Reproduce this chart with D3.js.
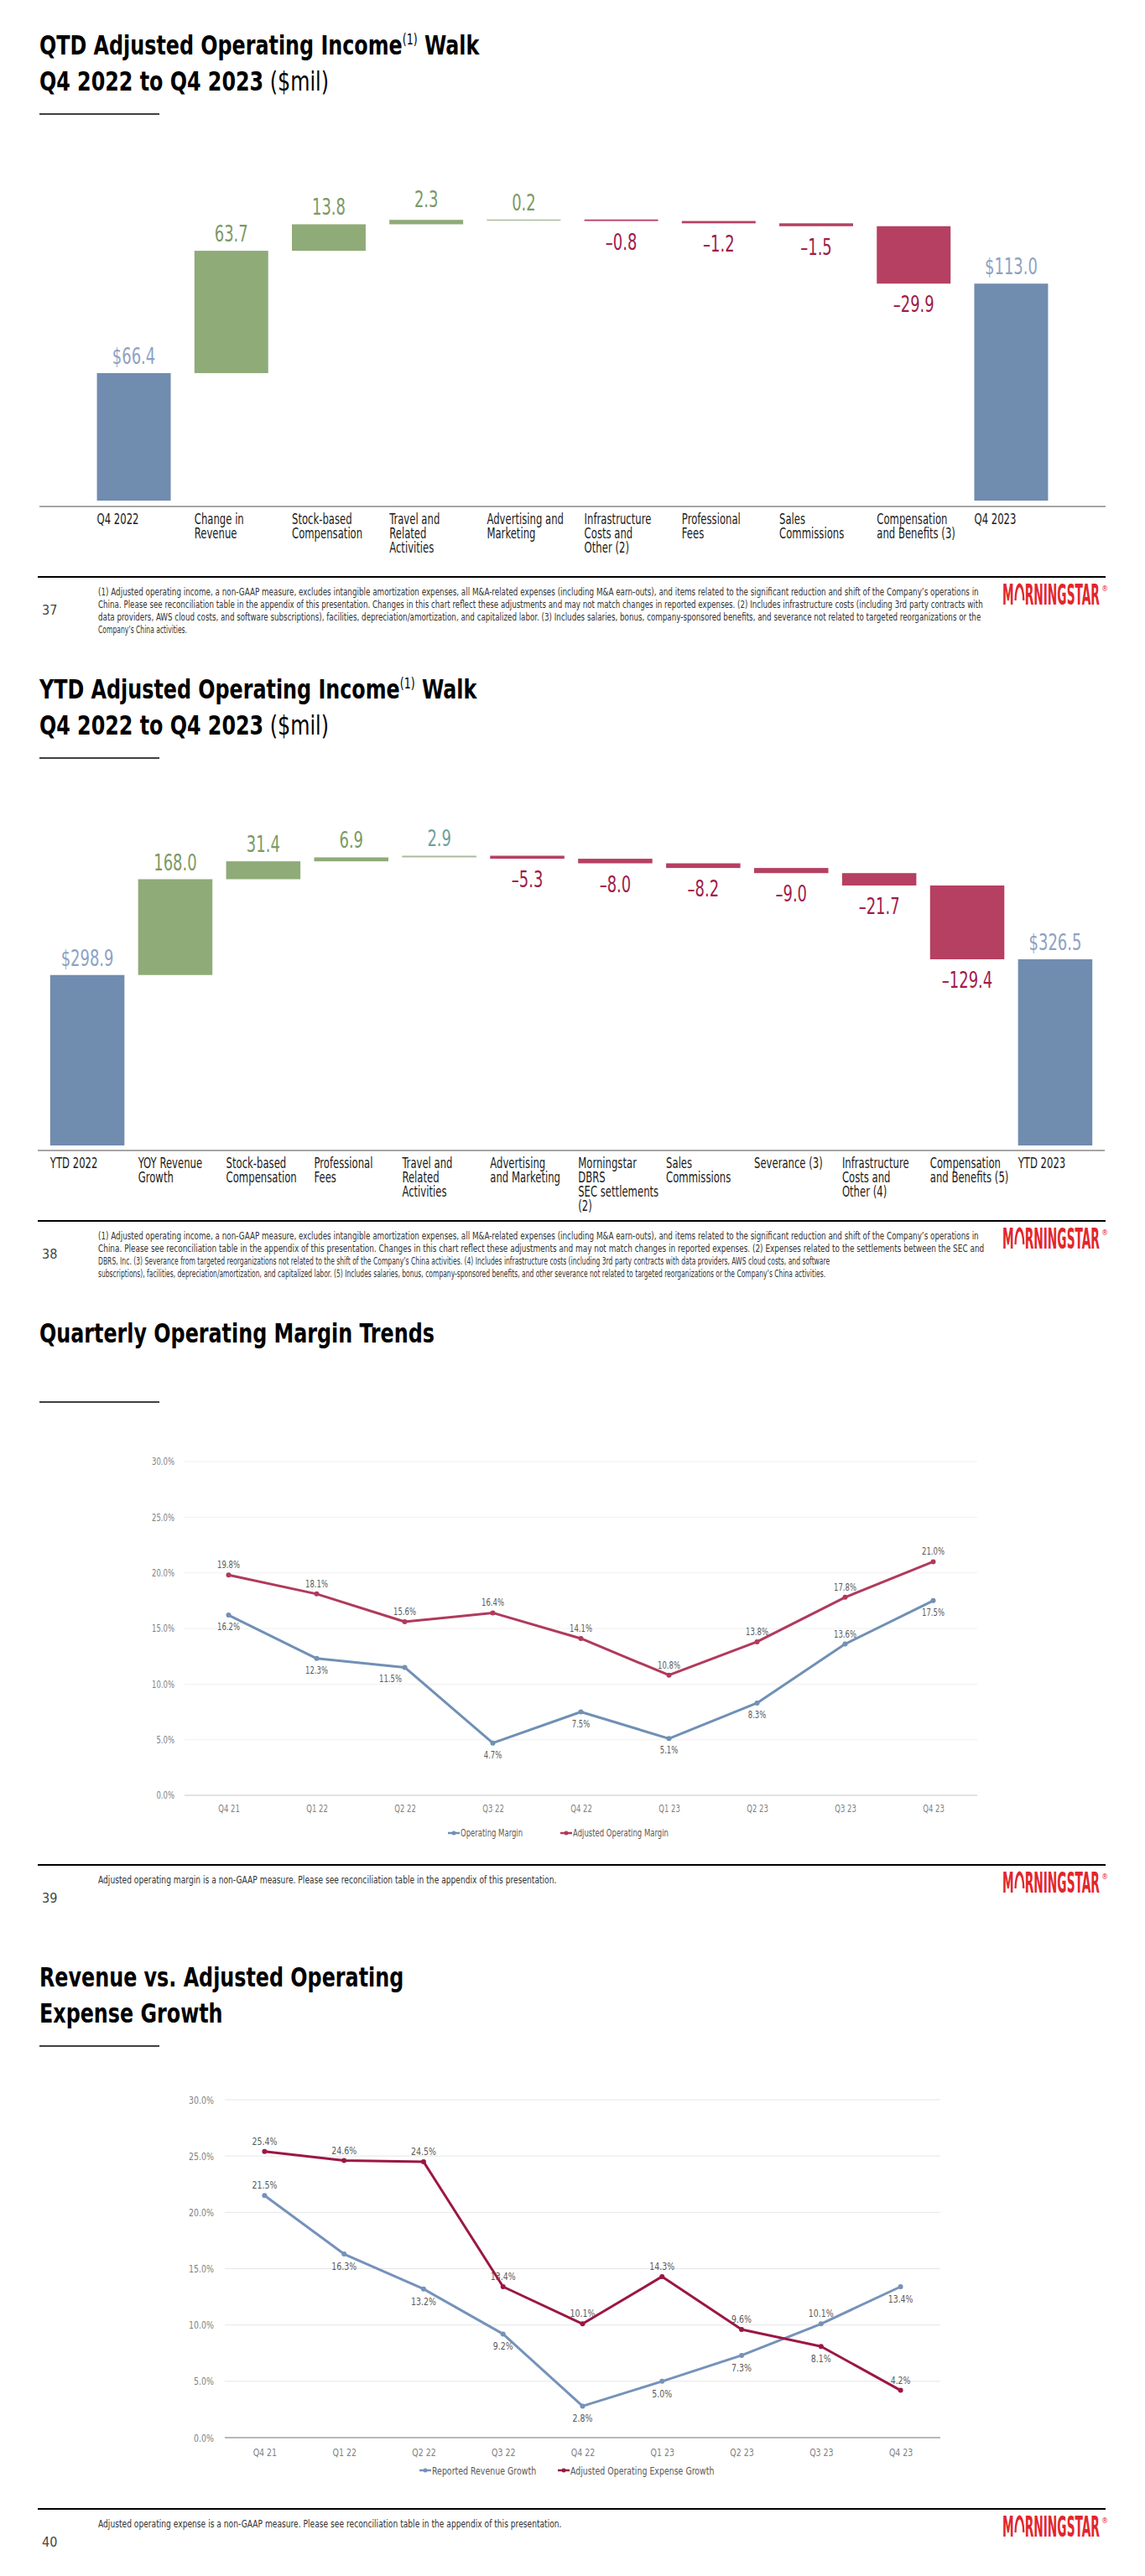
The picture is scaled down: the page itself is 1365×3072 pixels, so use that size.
<!DOCTYPE html>
<html><head><meta charset="utf-8">
<script src="https://cdn.jsdelivr.net/npm/d3@7"></script>
<style>
body{margin:0;background:#fff;}
svg{display:block;background:#fff;}
text{font-family:"Liberation Sans Narrow","Arial Narrow","DejaVu Sans Condensed","DejaVu Sans",sans-serif;}
</style></head><body>
<svg id="c" width="1365" height="3072"></svg>
<script>
// ---------- DATA ----------
const qtdCategories = ["Q4 2022","Change in\nRevenue","Stock-based\nCompensation","Travel and\nRelated\nActivities","Advertising and\nMarketing","Infrastructure\nCosts and\nOther (2)","Professional\nFees","Sales\nCommissions","Compensation\nand Benefits (3)","Q4 2023"];
const qtdValues = [66.4, 63.7, 13.8, 2.3, 0.2, -0.8, -1.2, -1.5, -29.9, 113.0];
const qtdIsTotal = [true,false,false,false,false,false,false,false,false,true];

const ytdCategories = ["YTD 2022","YOY Revenue\nGrowth","Stock-based\nCompensation","Professional\nFees","Travel and\nRelated\nActivities","Advertising\nand Marketing","Morningstar\nDBRS\nSEC settlements\n(2)","Sales\nCommissions","Severance (3)","Infrastructure\nCosts and\nOther (4)","Compensation\nand Benefits (5)","YTD 2023"];
const ytdValues = [298.9, 168.0, 31.4, 6.9, 2.9, -5.3, -8.0, -8.2, -9.0, -21.7, -129.4, 326.5];
const ytdIsTotal = [true,false,false,false,false,false,false,false,false,false,false,true];

const quarters = ["Q4 21","Q1 22","Q2 22","Q3 22","Q4 22","Q1 23","Q2 23","Q3 23","Q4 23"];
const operatingMargin = [16.2, 12.3, 11.5, 4.7, 7.5, 5.1, 8.3, 13.6, 17.5];
const adjustedOperatingMargin = [19.8, 18.1, 15.6, 16.4, 14.1, 10.8, 13.8, 17.8, 21.0];
const reportedRevenueGrowth = [21.5, 16.3, 13.2, 9.2, 2.8, 5.0, 7.3, 10.1, 13.4];
const adjustedOpexGrowth = [25.4, 24.6, 24.5, 13.4, 10.1, 14.3, 9.6, 8.1, 4.2];
const pctTicks = [0, 5, 10, 15, 20, 25, 30];

// label placement (a = above, b = below, bl = below-left)
const opMarginSide  = ["b","b","bl","b","b","b","b","a","b"];
const adjMarginSide = ["a","a","a","a","a","a","a","a","a"];
const revSide       = ["a","b","b","b","b","b","b","a","b"];
const opexSide      = ["a","a","a","a","a","a","a","b","a"];

const fn1 = [
"(1) Adjusted operating income, a non-GAAP measure, excludes intangible amortization expenses, all M&A-related expenses (including M&A earn-outs), and items related to the significant reduction and shift of the Company’s operations in",
"China. Please see reconciliation table in the appendix of this presentation. Changes in this chart reflect these adjustments and may not match changes in reported expenses. (2) Includes infrastructure costs (including 3rd party contracts with",
"data providers, AWS cloud costs, and software subscriptions), facilities, depreciation/amortization, and capitalized labor. (3) Includes salaries, bonus, company-sponsored benefits, and severance not related to targeted reorganizations or the",
"Company’s China activities."];
const fn2 = [
"(1) Adjusted operating income, a non-GAAP measure, excludes intangible amortization expenses, all M&A-related expenses (including M&A earn-outs), and items related to the significant reduction and shift of the Company’s operations in",
"China. Please see reconciliation table in the appendix of this presentation. Changes in this chart reflect these adjustments and may not match changes in reported expenses. (2) Expenses related to the settlements between the SEC and",
"DBRS, Inc. (3) Severance from targeted reorganizations not related to the shift of the Company’s China activities.  (4) Includes infrastructure costs (including 3rd party contracts with data providers, AWS cloud costs, and software",
"subscriptions), facilities, depreciation/amortization, and capitalized labor. (5) Includes salaries, bonus, company-sponsored benefits, and other severance not related to targeted reorganizations or the Company’s China activities."];
const fn3 = ["Adjusted operating margin is a non-GAAP measure. Please see reconciliation table in the appendix of this presentation."];
const fn4 = ["Adjusted operating expense is a non-GAAP measure. Please see reconciliation table in the appendix of this presentation."];

// ---------- STYLE ----------
const C = {
  barBlue:"#708caf", barGreen:"#8fab78", barRed:"#b54062", barThin:"#a9bb9a",
  lblBlue:"#8ea2c3", lblGreen:"#7c9966", lblRed:"#a11c49", lblTeal:"#6fa19b",
  logo:"#e3262b"
};
const SLIDE_H = 768;
const svg = d3.select("#c");
const slides = [0,1,2,3].map(i => svg.append("g").attr("transform", `translate(0,${i*SLIDE_H})`));

// text measuring / horizontal condensing (by transform)
const tmp = svg.append("text").attr("x", -2000).attr("y", -2000);
function measure(str, size, weight) {
  tmp.attr("font-size", size).attr("font-weight", weight || "normal").text(str);
  return tmp.node().getComputedTextLength();
}
function condense(sel, f) {
  sel.each(function() {
    const t = d3.select(this);
    const x = +t.attr("x") || 0, y = +t.attr("y") || 0;
    t.attr("x", 0).attr("y", 0).attr("transform", `translate(${x},${y}) scale(${f},1)`);
  });
}
const F_TITLE = 433 / measure("QTD Adjusted Operating Income", 32, "bold");
const F_CAT   = 50 / measure("Q4 2022", 17, 300);
const F_VAL   = 40 / measure("63.7", 26, 300);
const F_S12   = 27 / measure("30.0%", 12);
const F_S13   = 30 / measure("30.0%", 13);

// ---------- HELPERS ----------
function title(g, lines) {
  lines.forEach((segs, li) => {
    const tg = g.append("g").attr("transform", `translate(47,${65 + li*43}) scale(${F_TITLE},1)`);
    const t = tg.append("text").attr("x", 0).attr("y", 0).attr("font-size", 32).attr("fill", "#000");
    let raised = false;
    segs.forEach(s => {
      const ts = t.append("tspan").text(s.t);
      ts.attr("font-weight", s.w === "b" ? "bold" : 300);
      if (s.sup) { ts.attr("font-size", 17).attr("dy", -12); raised = true; }
      else if (raised) { ts.attr("dy", 12); raised = false; }
    });
  });
  g.append("line").attr("x1", 47).attr("x2", 190).attr("y1", 136).attr("y2", 136)
    .attr("stroke", "#000").attr("stroke-width", 1.5);
}

function logo(g, x, base, targetW) {
  const lg = g.append("g");
  const fs = 33;
  const m = lg.append("text").attr("x", 0).attr("y", 0).attr("font-size", fs).attr("font-weight", "bold").attr("fill", C.logo).text("M");
  const mw = m.node().getComputedTextLength();
  const ox = mw + 2, ow = 25;
  lg.append("path").attr("d", `M${ox+2},-5 A${ow/2-2},18 0 0 1 ${ox+ow-2},-5`)
    .attr("fill", "none").attr("stroke", C.logo).attr("stroke-width", 5);
  const r = lg.append("text").attr("x", ox + ow + 1).attr("y", 0).attr("font-size", fs).attr("font-weight", "bold").attr("fill", C.logo).text("RNINGSTAR");
  const total = ox + ow + 1 + r.node().getComputedTextLength();
  const sc = targetW / total;
  lg.attr("transform", `translate(${x},${base}) scale(${sc},1)`);
  g.append("text").attr("x", x + targetW + 2).attr("y", base - 16).attr("font-size", 9).attr("fill", C.logo).text("®");
}

function footer(g, lines, widths, num, fs) {
  g.append("line").attr("x1", 45).attr("x2", 1318).attr("y1", 688).attr("y2", 688).attr("stroke", "#000").attr("stroke-width", 2);
  lines.forEach((l, i) => {
    const f = widths[i] / measure(l, fs);
    g.append("text").attr("transform", `translate(117,${710 + i*15}) scale(${f},1)`)
      .attr("font-size", fs).attr("fill", "#333").text(l);
  });
  g.append("text").attr("x", 50).attr("y", 733).attr("font-size", 16).attr("fill", "#444").text(num);
  logo(g, 1195, 721, 116);
}

function waterfall(g, cats, vals, isTotal, cfg) {
  let run = 0;
  const bars = vals.map((v, i) => {
    let a, b;
    if (isTotal[i]) { a = 0; b = v; run = v; }
    else { a = run; b = run + v; run = b; }
    return { i, v, total: isTotal[i], lo: Math.min(a, b), hi: Math.max(a, b), cat: cats[i] };
  });
  const x = d3.scaleBand().domain(bars.map(d => d.i)).range(cfg.xRange).paddingInner(cfg.pi).paddingOuter(cfg.po);
  const y = d3.scaleLinear().domain(cfg.yDomain).range(cfg.yRange);
  const thin = d => y(d.lo) - y(d.hi) < 2.5;

  g.append("line").attr("x1", cfg.xRange[0]).attr("x2", cfg.xRange[1]).attr("y1", cfg.axisY).attr("y2", cfg.axisY)
    .attr("stroke", "#a6a6a6").attr("stroke-width", 2);

  g.selectAll(null).data(bars).join("rect")
    .attr("x", d => x(d.i)).attr("width", x.bandwidth())
    .attr("y", d => y(d.hi))
    .attr("height", d => Math.max(1.5, y(d.lo) - y(d.hi)))
    .attr("fill", d => d.total ? C.barBlue : (d.v > 0 ? (thin(d) ? C.barThin : C.barGreen) : C.barRed));

  const vl = g.selectAll(null).data(bars).join("text")
    .attr("x", d => x(d.i) + x.bandwidth()/2)
    .attr("y", d => d.total || d.v > 0 ? y(d.hi) - (d.i === cfg.raiseIdx ? 15 : 11) : y(d.lo) + 34)
    .attr("text-anchor", "middle").attr("font-size", 26).attr("font-weight", 300)
    .attr("fill", d => d.total ? C.lblBlue : (d.v > 0 ? (d.i === cfg.tealIdx ? C.lblTeal : C.lblGreen) : C.lblRed))
    .text(d => d.total ? "$" + d.v.toFixed(1) : (d.v < 0 ? "–" + Math.abs(d.v).toFixed(1) : d.v.toFixed(1)));
  condense(vl, F_VAL);

  const cl = g.selectAll(null).data(bars).join("text")
    .attr("transform", d => `translate(${x(d.i)},${cfg.labelY}) scale(${F_CAT},1)`)
    .attr("font-size", 17).attr("font-weight", 300).attr("fill", "#1a1a1a");
  cl.each(function(d) {
    d.cat.split("\n").forEach((s, k) => {
      d3.select(this).append("tspan").attr("x", 0).attr("y", k*17).text(s);
    });
  });
}

function lineChart(g, seriesList, cfg) {
  const x = d3.scalePoint().domain(quarters).range(cfg.xRange).padding(0.5);
  const y = d3.scaleLinear().domain([0, 30]).range(cfg.yRange);

  g.selectAll(null).data(pctTicks).join("line")
    .attr("x1", cfg.xRange[0]).attr("x2", cfg.xRange[1])
    .attr("y1", d => y(d)).attr("y2", d => y(d))
    .attr("stroke", d => d === 0 ? cfg.baseColor : cfg.gridColor)
    .attr("stroke-width", d => d === 0 ? cfg.baseW : 1);

  const ya = g.append("g").attr("transform", `translate(${cfg.yLabelX},0)`)
    .call(d3.axisLeft(y).tickValues(pctTicks).tickSize(0).tickPadding(0).tickFormat(d => d.toFixed(1) + "%"));
  ya.select(".domain").remove();
  ya.attr("font-size", cfg.fs);
  ya.selectAll("text").attr("fill", "#808080");
  condense(ya.selectAll("text"), cfg.f);

  const xa = g.append("g").attr("transform", `translate(0,${cfg.xLabelY - cfg.fs*0.36})`)
    .call(d3.axisBottom(x).tickSize(0).tickPadding(0));
  xa.select(".domain").remove();
  xa.attr("font-size", cfg.fs);
  xa.selectAll("text").attr("fill", "#808080");
  condense(xa.selectAll("text"), cfg.f);

  seriesList.forEach(s => {
    const line = d3.line().x((d, i) => x(quarters[i])).y(d => y(d));
    g.append("path").datum(s.values).attr("d", line).attr("fill", "none")
      .attr("stroke", s.color).attr("stroke-width", 3).attr("stroke-linejoin", "round");
    g.selectAll(null).data(s.values).join("circle")
      .attr("cx", (d, i) => x(quarters[i])).attr("cy", d => y(d)).attr("r", 3).attr("fill", s.color);
    const lt = g.selectAll(null).data(s.values).join("text")
      .attr("x", (d, i) => x(quarters[i]) + (s.side[i] === "bl" ? -17 : 0))
      .attr("y", (d, i) => y(d) + (s.side[i] === "a" ? -cfg.above : cfg.below))
      .attr("text-anchor", "middle").attr("font-size", cfg.lfs).attr("fill", "#595959")
      .text(d => d.toFixed(1) + "%");
    condense(lt, cfg.f);
  });

  seriesList.forEach((s, i) => {
    const lg = g.append("g").attr("transform", `translate(${cfg.legendX[i]},${cfg.legendY})`);
    lg.append("line").attr("x1", 0).attr("x2", 14).attr("stroke", s.color).attr("stroke-width", 2.5);
    lg.append("circle").attr("cx", 7).attr("r", 2.5).attr("fill", s.color);
    const t = lg.append("text").attr("x", 15).attr("y", cfg.fs*0.35).attr("font-size", cfg.fs).attr("fill", "#595959").text(s.name);
    condense(t, cfg.f);
  });
}

// ---------- SLIDE 1 : QTD ----------
title(slides[0], [
  [{t:"QTD Adjusted Operating Income", w:"b"}, {t:"(1)", sup:true}, {t:" Walk", w:"b"}],
  [{t:"Q4 2022 to Q4 2023", w:"b"}, {t:" ($mil)"}]
]);
waterfall(slides[0], qtdCategories, qtdValues, qtdIsTotal, {
  xRange:[47, 1318], pi:0.243, po:0.59, raiseIdx:3, tealIdx:-1,
  yDomain:[0, 150], yRange:[597, 597 - 150*2.29], axisY:604, labelY:625
});
footer(slides[0], fn1, [1050, 1056, 1053, 106], "37", 13);

// ---------- SLIDE 2 : YTD ----------
title(slides[1], [
  [{t:"YTD Adjusted Operating Income", w:"b"}, {t:"(1)", sup:true}, {t:" Walk", w:"b"}],
  [{t:"Q4 2022 to Q4 2023", w:"b"}, {t:" ($mil)"}]
]);
waterfall(slides[1], ytdCategories, ytdValues, ytdIsTotal, {
  xRange:[45, 1317], pi:0.156, po:0.141, raiseIdx:-1, tealIdx:4,
  yDomain:[0, 520], yRange:[598, 598 - 520*0.68], axisY:604, labelY:625
});
footer(slides[1], fn2, [1050, 1058, 873, 868], "38", 13);

// ---------- SLIDE 3 : Margin trends ----------
title(slides[2], [[{t:"Quarterly Operating Margin Trends", w:"b"}]]);
lineChart(slides[2], [
  {name:"Operating Margin", values:operatingMargin, color:"#7090b5", side:opMarginSide},
  {name:"Adjusted Operating Margin", values:adjustedOperatingMargin, color:"#b03a5c", side:adjMarginSide}
], {
  xRange:[220, 1165], yRange:[605, 207], yLabelX:208, xLabelY:621,
  legendX:[534, 668], legendY:650, fs:12, lfs:12, above:8, below:18, f:F_S12,
  baseColor:"#d9d9d9", baseW:1.5, gridColor:"#f0f0f0"
});
footer(slides[2], fn3, [547], "39", 13);

// ---------- SLIDE 4 : Revenue vs Opex ----------
title(slides[3], [
  [{t:"Revenue vs. Adjusted Operating", w:"b"}],
  [{t:"Expense Growth", w:"b"}]
]);
lineChart(slides[3], [
  {name:"Reported Revenue Growth", values:reportedRevenueGrowth, color:"#7592ba", side:revSide},
  {name:"Adjusted Operating Expense Growth", values:adjustedOpexGrowth, color:"#9b1744", side:opexSide}
], {
  xRange:[268, 1121], yRange:[603, 200], yLabelX:255, xLabelY:620,
  legendX:[500, 665], legendY:642, fs:13, lfs:13, above:8, below:19, f:F_S13,
  baseColor:"#a0a0a0", baseW:1.5, gridColor:"#e6e6e6"
});
footer(slides[3], fn4, [553], "40", 13);
tmp.remove();
</script>
</body></html>
